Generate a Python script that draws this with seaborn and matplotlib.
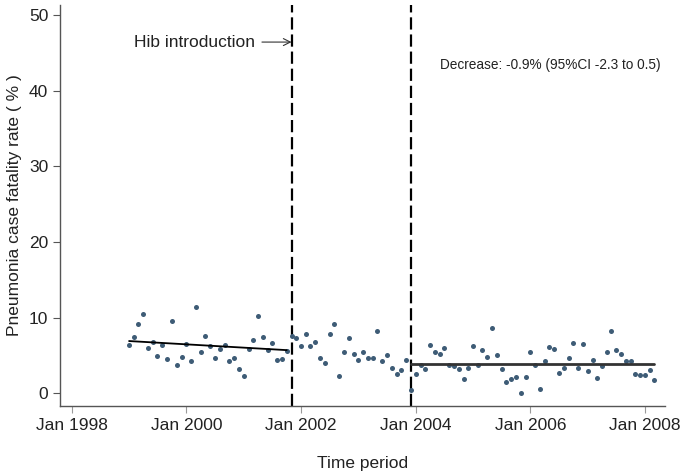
import pandas as pd
import numpy as np
import matplotlib.pyplot as plt
import matplotlib.dates as mdates
import seaborn as sns

# monthly pneumonia case fatality rate (%), Jan 1999 - Mar 2008
cfr_1999 = [6.4, 7.5, 9.2, 10.5, 6.0, 6.8, 4.9, 6.4, 4.5, 9.5, 3.7, 4.8]
cfr_2000 = [6.5, 4.2, 11.4, 5.4, 7.6, 6.3, 4.7, 5.8, 6.4, 4.3, 4.6, 3.2]
cfr_2001 = [2.3, 5.8, 7.0, 10.2, 7.4, 5.7, 6.7, 4.4, 4.5, 5.6, 7.6, 7.3]
cfr_2002 = [6.3, 7.8, 6.3, 6.8, 4.7, 4.0, 7.8, 9.1, 2.3, 5.4, 7.3, 5.2]
cfr_2003 = [4.4, 5.4, 4.7, 4.7, 8.2, 4.3, 5.0, 3.3, 2.5, 3.1, 4.4, 0.4]
cfr_2004 = [2.6, 3.7, 3.2, 6.4, 5.4, 5.2, 6.0, 3.8, 3.6, 3.2, 1.9, 3.3]
cfr_2005 = [6.2, 3.8, 5.7, 4.8, 8.6, 5.0, 3.2, 1.5, 1.9, 2.2, 0.0, 2.2]
cfr_2006 = [5.5, 3.7, 0.5, 4.2, 6.1, 5.9, 2.7, 3.4, 4.7, 6.6, 3.3, 6.5]
cfr_2007 = [3.0, 4.4, 2.0, 3.6, 5.5, 8.2, 5.7, 5.2, 4.2, 4.2, 2.5, 2.4]
cfr_2008 = [2.4, 3.1, 1.8]

# fitted segments (pre-Hib and post-Hib periods)
trend_pre_dates = ["1999-01-01", "2001-10-01"]
trend_pre_vals = [6.9, 5.7]
trend_post_dates = ["2003-12-01", "2008-03-01"]
trend_post_vals = [3.87, 3.87]

# period boundaries
boundaries = ["2001-11-01", "2003-12-01"]

tick_years = [1998, 2000, 2002, 2004, 2006, 2008]
tick_labels = ["Jan %d" % y for y in tick_years]

cfr = (cfr_1999 + cfr_2000 + cfr_2001 + cfr_2002 + cfr_2003 + cfr_2004
       + cfr_2005 + cfr_2006 + cfr_2007 + cfr_2008)
df = pd.DataFrame({"month": pd.date_range("1999-01-01", periods=len(cfr), freq="MS"),
                   "cfr": cfr})
pre = pd.DataFrame({"month": pd.to_datetime(trend_pre_dates), "cfr": trend_pre_vals})
post = pd.DataFrame({"month": pd.to_datetime(trend_post_dates), "cfr": trend_post_vals})

sns.set_style("ticks")
plt.rcParams["font.family"] = ["Liberation Sans", "DejaVu Sans"]

fig = plt.figure(figsize=(6.85, 4.75), dpi=100)
ax = fig.add_axes([0.0876, 0.1453, 0.8832, 0.8442])

sns.scatterplot(data=df, x="month", y="cfr", ax=ax, color="#3e5c76",
                marker="o", s=13, linewidth=0, zorder=3)
sns.lineplot(data=pre, x="month", y="cfr", ax=ax, color="black", linewidth=1.3, zorder=4)
sns.lineplot(data=post, x="month", y="cfr", ax=ax, color="#333333", linewidth=2.0, zorder=4)

for b in boundaries:
    ax.axvline(pd.Timestamp(b), color="black", linewidth=1.6, dashes=(5.5, 2.2), zorder=2)

ax.set_xlim(pd.Timestamp("1997-10-18"), pd.Timestamp("2008-05-07"))
ax.set_ylim(-1.68, 51.3)
ax.set_xticks([pd.Timestamp("%d-01-01" % y) for y in tick_years])
ax.set_xticklabels(tick_labels)
ax.set_yticks([0, 10, 20, 30, 40, 50])

ax.tick_params(axis="x", colors="#9a9a9a", labelcolor="#222222", labelsize=12.5, length=5)
ax.tick_params(axis="y", colors="#555555", labelcolor="#222222", labelsize=12.5, length=5)
for s in ["left", "bottom"]:
    ax.spines[s].set_color("#555555")
    ax.spines[s].set_linewidth(1.0)
sns.despine(ax=ax)

ax.set_xlabel("Time period", fontsize=12.5, color="#222222", labelpad=17)
ax.set_ylabel("Pneumonia case fatality rate ( % )", fontsize=12.5, color="#222222", labelpad=5)

ax.annotate("Hib introduction", xy=(pd.Timestamp("2001-11-01"), 46.4),
            xytext=(pd.Timestamp("2001-03-10"), 46.4), ha="right", va="center",
            fontsize=12.5, color="#222222",
            arrowprops=dict(arrowstyle="->", color="#333333", lw=0.8,
                            shrinkA=3, shrinkB=0))
ax.text(pd.Timestamp("2004-06-05"), 43.4, "Decrease: -0.9% (95%CI -2.3 to 0.5)",
        fontsize=9.8, color="#222222", va="center")

fig.savefig("out.png", dpi=100)
